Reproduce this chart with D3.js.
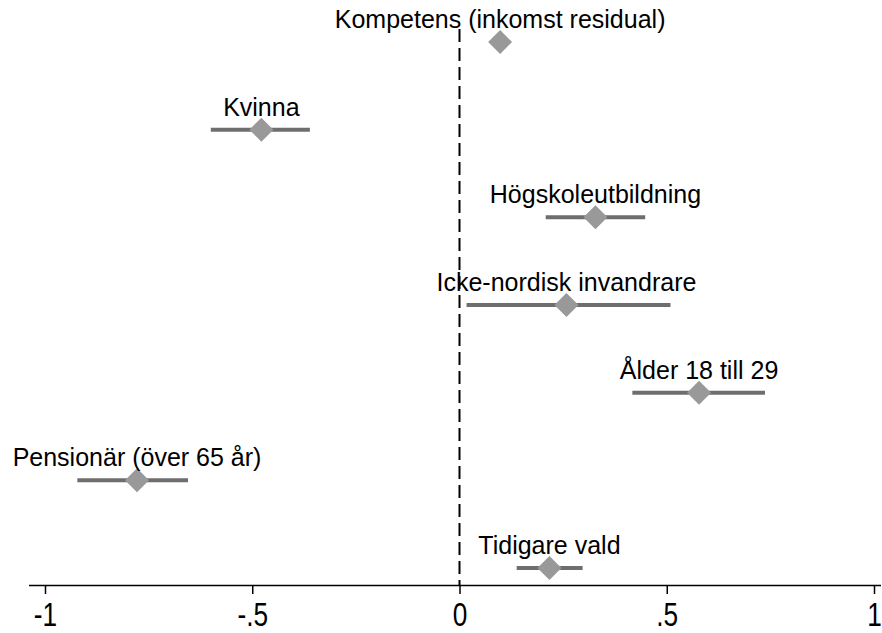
<!DOCTYPE html>
<html>
<head>
<meta charset="utf-8">
<script src="https://cdn.jsdelivr.net/npm/d3@7"></script>
<style>
  body { margin: 0; background: #fff; }
  text { font-family: "Liberation Sans", Arial, sans-serif; }
</style>
</head>
<body>
<script>
  var width = 882, height = 633;

  // chart values
  var labels = ["Kompetens (inkomst residual)", "Kvinna", "Högskoleutbildning",
                "Icke-nordisk invandrare", "Ålder 18 till 29", "Pensionär (över 65 år)", "Tidigare vald"];
  var estimates = [0.098, -0.478, 0.328, 0.258, 0.578, -0.778, 0.217];
  var lower = [0.085, -0.60, 0.208, 0.017, 0.417, -0.922, 0.138];
  var upper = [0.111, -0.361, 0.448, 0.509, 0.737, -0.655, 0.297];
  var tickValues = [-1, -0.5, 0, 0.5, 1];
  var tickLabels = ["-1", "-.5", "0", ".5", "1"];

  var data = labels.map(function (d, i) {
    return { label: d, est: estimates[i], lo: lower[i], hi: upper[i] };
  });

  var svg = d3.select("body").append("svg")
      .attr("width", width)
      .attr("height", height);

  var x = d3.scaleLinear().domain([-1, 1]).range([45, 874]);
  var y = d3.scalePoint().domain(labels).range([42, 568]);
  var axisY = 585;

  // zero reference line
  svg.append("line")
      .attr("x1", x(0)).attr("x2", x(0))
      .attr("y1", 29).attr("y2", axisY)
      .attr("stroke", "#000")
      .attr("stroke-width", 2)
      .attr("stroke-dasharray", "13,6");

  // x axis
  var xaxis = d3.axisBottom(x)
      .tickValues(tickValues)
      .tickSize(9)
      .tickFormat(function (d, i) { return tickLabels[i]; });

  var ax = svg.append("g")
      .attr("transform", "translate(0," + axisY + ")")
      .call(xaxis);
  ax.select(".domain").attr("d", "M29,0.5H881").attr("stroke", "#000").attr("stroke-width", 1.5);
  ax.selectAll(".tick line").attr("stroke", "#000").attr("stroke-width", 1.5);
  ax.selectAll(".tick text")
      .attr("y", 0).attr("dy", null)
      .attr("font-size", 32)
      .attr("fill", "#000")
      .attr("transform", "translate(0,41) scale(0.82,1.05)")
      .attr("x", 0);

  // confidence intervals
  svg.selectAll(".ci").data(data).enter().append("line")
      .attr("class", "ci")
      .attr("x1", function (d) { return x(d.lo); })
      .attr("x2", function (d) { return x(d.hi); })
      .attr("y1", function (d) { return y(d.label); })
      .attr("y2", function (d) { return y(d.label); })
      .attr("stroke", "#6e6e6e")
      .attr("stroke-width", 4);

  // diamonds
  var r = 12;
  svg.selectAll(".pt").data(data).enter().append("path")
      .attr("class", "pt")
      .attr("d", "M0," + (-r) + "L" + r + ",0L0," + r + "L" + (-r) + ",0Z")
      .attr("transform", function (d) { return "translate(" + x(d.est) + "," + y(d.label) + ")"; })
      .attr("fill", "#999999");

  // marker labels
  svg.selectAll(".lab").data(data).enter().append("text")
      .attr("class", "lab")
      .attr("x", function (d) { return x(d.est); })
      .attr("y", function (d) { return y(d.label) - 14; })
      .attr("text-anchor", "middle")
      .attr("font-size", 25)
      .attr("fill", "#000")
      .text(function (d) { return d.label; });
</script>
</body>
</html>
